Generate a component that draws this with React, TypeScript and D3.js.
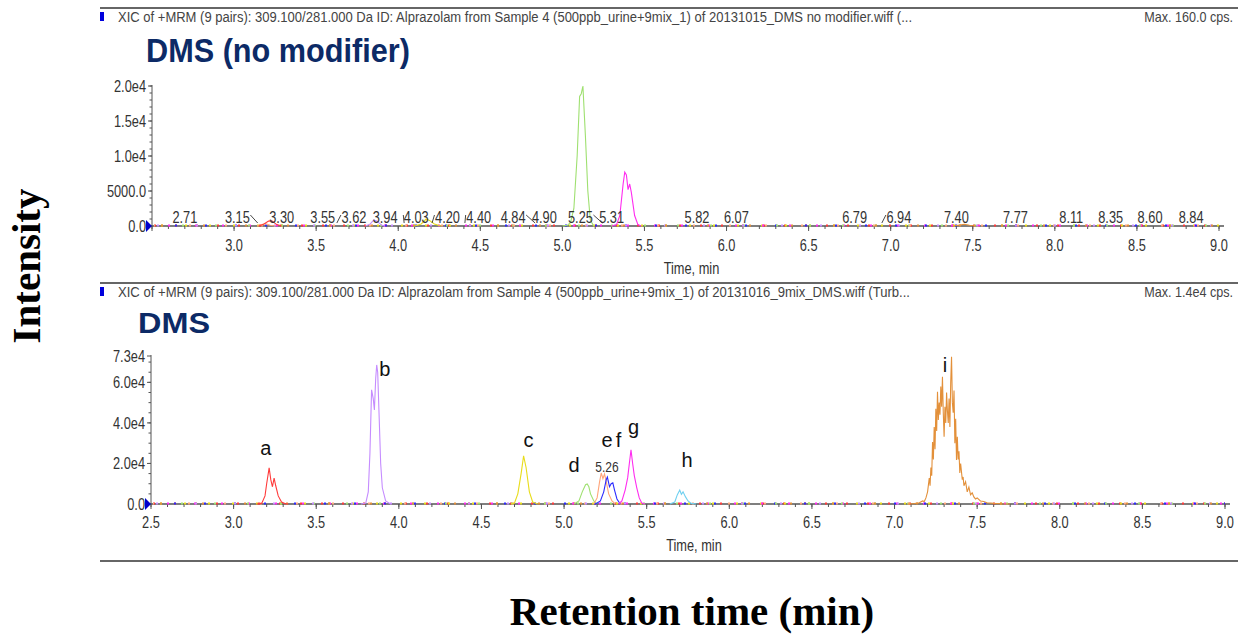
import React from "react";
import * as d3 from "d3";

type Pt = [number, number];

// ---------------- Top panel: DMS (no modifier) traces [time min, intensity cps]
const topGreen: Pt[] = [[5.0, 0], [5.03, 100], [5.05, 500], [5.07, 2500], [5.09, 10000], [5.105, 18500], [5.115, 18900], [5.125, 20000], [5.14, 13000], [5.155, 5000], [5.17, 900], [5.19, 0]];
const topMagenta: Pt[] = [[5.30, 0], [5.33, 200], [5.35, 1500], [5.37, 6000], [5.38, 7700], [5.39, 7300], [5.40, 5200], [5.41, 6000], [5.42, 4800], [5.44, 1500], [5.46, 200], [5.48, 0]];
const topRed: Pt[] = [[3.15, 0], [3.18, 250], [3.21, 700], [3.23, 750], [3.26, 200], [3.29, 0]];
const topSalmon: Pt[] = [[3.14, 0], [3.17, 200], [3.19, 350], [3.22, 100], [3.25, 0]];
const topPurple: Pt[] = [[3.80, 0], [3.83, 300], [3.85, 850], [3.87, 700], [3.90, 100], [3.92, 0]];
const topYellow: Pt[] = [[4.10, 0], [4.14, 300], [4.17, 1000], [4.19, 800], [4.22, 300], [4.26, 0]];
const topOrange: Pt[] = [[7.38, 0], [7.42, 150], [7.45, 250], [7.48, 100], [7.52, 0]];

const topPeakText = ["2.71", "3.15", "3.30", "3.55", "3.62", "3.94", "4.03", "4.20", "4.40", "4.84", "4.90", "5.25", "5.31", "5.82", "6.07", "6.79", "6.94", "7.40", "7.77", "8.11", "8.35", "8.60", "8.84"];
const topPeakTimes = [2.71, 3.15, 3.30, 3.55, 3.62, 3.94, 4.03, 4.20, 4.40, 4.84, 4.90, 5.25, 5.31, 5.82, 6.07, 6.79, 6.94, 7.40, 7.77, 8.11, 8.35, 8.60, 8.84];
const topLabelTimes = [2.70, 3.02, 3.29, 3.54, 3.73, 3.92, 4.11, 4.30, 4.49, 4.70, 4.89, 5.11, 5.30, 5.82, 6.06, 6.78, 7.05, 7.40, 7.76, 8.10, 8.34, 8.58, 8.83];

// ---------------- Bottom panel: DMS traces
const botA: Pt[] = [[3.14, 0], [3.17, 300], [3.19, 4000], [3.20, 10000], [3.215, 17800], [3.225, 12000], [3.235, 8500], [3.245, 12800], [3.255, 9000], [3.27, 4000], [3.29, 1000], [3.31, 200], [3.33, 0]];
const botB: Pt[] = [[3.77, 0], [3.80, 500], [3.815, 6000], [3.825, 25000], [3.835, 56300], [3.845, 52000], [3.852, 46400], [3.86, 62000], [3.866, 68600], [3.872, 65000], [3.88, 45000], [3.89, 20000], [3.90, 8000], [3.92, 1500], [3.95, 0]];
const botC: Pt[] = [[4.68, 0], [4.70, 500], [4.72, 5000], [4.74, 15000], [4.755, 23700], [4.77, 18000], [4.79, 6000], [4.81, 1000], [4.84, 0]];
const botD: Pt[] = [[5.06, 0], [5.09, 1500], [5.11, 6000], [5.13, 9500], [5.14, 9900], [5.15, 8500], [5.16, 5000], [5.18, 1500], [5.20, 0]];
const botE: Pt[] = [[5.18, 0], [5.20, 3000], [5.215, 11000], [5.225, 15300], [5.235, 12500], [5.245, 14800], [5.255, 11000], [5.27, 5000], [5.29, 1500], [5.31, 0]];
const botF: Pt[] = [[5.19, 0], [5.22, 1500], [5.24, 6000], [5.255, 12000], [5.262, 13300], [5.275, 8500], [5.285, 10000], [5.295, 10400], [5.305, 7000], [5.32, 2500], [5.34, 0]];
const botG: Pt[] = [[5.33, 0], [5.35, 1500], [5.37, 7000], [5.385, 13000], [5.395, 20000], [5.405, 26700], [5.415, 20000], [5.425, 14000], [5.44, 8000], [5.455, 3000], [5.47, 500], [5.49, 0]];
const botH: Pt[] = [[5.64, 0], [5.67, 1000], [5.685, 4500], [5.70, 6900], [5.71, 4800], [5.72, 6000], [5.735, 3500], [5.75, 1500], [5.77, 300], [5.80, 0]];
const botI: Pt[] = [[7.08, 0], [7.12, 200], [7.15, 600], [7.17, 1500], [7.18, 1200], [7.19, 3000], [7.20, 6000], [7.21, 12800], [7.215, 9000], [7.22, 18000], [7.225, 14000], [7.23, 30600], [7.235, 22000], [7.24, 38000], [7.245, 27000], [7.25, 47000], [7.255, 36000], [7.26, 55400], [7.265, 41400], [7.27, 50000], [7.275, 44000], [7.28, 58000], [7.285, 48000], [7.29, 62700], [7.295, 45000], [7.30, 33200], [7.305, 48000], [7.31, 40000], [7.315, 55000], [7.32, 46000], [7.325, 40000], [7.33, 52000], [7.335, 38000], [7.34, 60000], [7.345, 72600], [7.35, 50000], [7.355, 45000], [7.36, 56000], [7.365, 30000], [7.37, 42000], [7.375, 21700], [7.38, 33200], [7.385, 22000], [7.39, 26000], [7.395, 15300], [7.40, 20000], [7.41, 12000], [7.415, 13300], [7.42, 9000], [7.43, 11000], [7.44, 6000], [7.45, 8400], [7.46, 4500], [7.47, 5500], [7.48, 3500], [7.49, 2500], [7.50, 3000], [7.52, 1500], [7.54, 1200], [7.56, 600], [7.60, 300], [7.65, 100], [7.70, 0]];

const botLabelText = ["a", "b", "c", "d", "e", "f", "g", "h", "i"];
const botLabelTimes = [3.195, 3.915, 4.785, 5.06, 5.26, 5.33, 5.42, 5.745, 7.305];
const botLabelValues = [24200, 63100, 28100, 15800, 28100, 28100, 34500, 18300, 65100];
const botRtText = ["5.26"];
const botRtTimes = [5.26];
const botRtValues = [15800];

const xTicks = [2.5, 3.0, 3.5, 4.0, 4.5, 5.0, 5.5, 6.0, 6.5, 7.0, 7.5, 8.0, 8.5, 9.0];
const topYTicks = [0, 5000, 10000, 15000, 20000];
const topYTickText = ["0.0", "5000.0", "1.0e4", "1.5e4", "2.0e4"];
const botYTicks = [0, 20000, 40000, 60000, 73000];
const botYTickText = ["0.0", "2.0e4", "4.0e4", "6.0e4", "7.3e4"];

const C = {
  red: "#ff3b3b", purple: "#c58cff", yellow: "#e8dc1a", green: "#9fe070",
  salmon: "#ffa57a", blue: "#2a2aff", magenta: "#ff2cf0", cyan: "#6fd0f0",
  orange: "#e3903a", navy: "#0c2a66",
};

const topSeries = [
  { pts: topSalmon, color: C.salmon }, { pts: topRed, color: C.red },
  { pts: topPurple, color: C.purple }, { pts: topYellow, color: C.yellow },
  { pts: topOrange, color: C.orange }, { pts: topGreen, color: C.green },
  { pts: topMagenta, color: C.magenta },
];
const botSeries = [
  { pts: botA, color: C.red }, { pts: botB, color: C.purple }, { pts: botC, color: C.yellow },
  { pts: botD, color: C.green }, { pts: botE, color: C.salmon }, { pts: botF, color: C.blue },
  { pts: botG, color: C.magenta }, { pts: botH, color: C.cyan }, { pts: botI, color: C.orange },
];
const baselineColors = [C.red, C.yellow, C.magenta, C.blue, C.green, C.salmon, C.purple, C.orange];

const SANS = "'Liberation Sans', Arial, sans-serif";
const SERIF = "'Liberation Serif', 'Times New Roman', serif";
const FS = 16;

function CText({ x, y, children, size = FS, anchor = "middle", sx = 0.8, fill = "#333" }: any) {
  return (
    <text transform={`translate(${x},${y}) scale(${sx},1)`} fontFamily={SANS} fontSize={size} textAnchor={anchor} fill={fill}>
      {children}
    </text>
  );
}

function Panel({ x, y, series, yTicks, yTickText, yMinorStep, showFirstX, header, headerLen, maxText, topLineY, title, titleX, titleLen, titleSize, titleY, timeLabelY, tickLabelY }: any) {
  const [x0, x1] = x.range();
  const y0 = y(0);
  const yTop = y.range()[1];
  const line = d3.line<Pt>().x((d) => x(d[0])).y((d) => y(d[1]));
  const minorX = d3.range(25, 91).map((v) => v / 10);
  const minorY = d3.range(0, y.domain()[1] + 1, yMinorStep);
  return (
    <g>
      <line x1={100} x2={1238} y1={topLineY} y2={topLineY} stroke="#666" strokeWidth={2} />
      <rect x={100} y={topLineY + 4} width={4} height={9} fill="#0000dd" />
      <text x={118} y={topLineY + 14} fontFamily={SANS} fontSize={14} fill="#444" textLength={headerLen} lengthAdjust="spacingAndGlyphs">{header}</text>
      <text transform={`translate(1233,${topLineY + 14}) scale(0.9,1)`} fontFamily={SANS} fontSize={14} fill="#444" textAnchor="end">{maxText}</text>
      <text x={titleX} y={titleY} fontFamily={SANS} fontWeight="bold" fontSize={titleSize} fill={C.navy} textLength={titleLen} lengthAdjust="spacingAndGlyphs">{title}</text>

      {/* y axis */}
      <line x1={x0} x2={x0} y1={y0} y2={yTop - 1} stroke="#555" strokeWidth={1} />
      {minorY.map((v: number) => (
        <line key={"my" + v} x1={x0 - 2.5} x2={x0} y1={y(v)} y2={y(v)} stroke="#555" strokeWidth={1} />
      ))}
      {yTicks.map((v: number, i: number) => (
        <g key={"yt" + v}>
          <line x1={x0 - 4} x2={x0} y1={y(v)} y2={y(v)} stroke="#555" strokeWidth={1} />
          <CText x={x0 - 6} y={y(v) + 6} anchor="end">{yTickText[i]}</CText>
        </g>
      ))}

      {/* x axis */}
      <line x1={x0} x2={x1 + 5} y1={y0} y2={y0} stroke="#555" strokeWidth={1.6} />
      {minorX.map((v: number) => (
        <line key={"mx" + v} x1={x(v)} x2={x(v)} y1={y0} y2={y0 + 3} stroke="#555" strokeWidth={1} />
      ))}
      {xTicks.map((v: number) => (
        <g key={"xt" + v}>
          <line x1={x(v)} x2={x(v)} y1={y0} y2={y0 + 5} stroke="#555" strokeWidth={1} />
          {(showFirstX || v > 2.5) && <CText x={x(v)} y={tickLabelY}>{v.toFixed(1)}</CText>}
        </g>
      ))}
      <CText x={(x0 + x1) / 2 + 6} y={timeLabelY}>Time, min</CText>

      {/* baselines of all traces */}
      {baselineColors.map((c, i) => (
        <line key={"bl" + i} x1={x0 + 2} x2={x1} y1={y0 - 0.5} y2={y0 - 0.5} stroke={c} strokeWidth={2}
          strokeDasharray={`2 ${19 + i * 3}`} strokeDashoffset={-i * 7} />
      ))}

      {/* traces */}
      {series.map((s: any, i: number) => (
        <path key={"s" + i} d={line(s.pts) || ""} fill="none" stroke={s.color} strokeWidth={1.1} />
      ))}

      <polygon points={`${x0 - 6},${y0 - 6} ${x0},${y0} ${x0 - 6},${y0 + 6}`} fill="#0000cc" />
    </g>
  );
}

export default function App() {
  const xTop = d3.scaleLinear().domain([2.5, 9.0]).range([152, 1219]);
  const yTop = d3.scaleLinear().domain([0, 20000]).range([226, 86]);
  const xBot = d3.scaleLinear().domain([2.5, 9.0]).range([151, 1225]);
  const yBot = d3.scaleLinear().domain([0, 73000]).range([504, 356]);
  const tb = yTop(0);

  return (
    <svg width={1240} height={642} style={{ position: "absolute", left: 0, top: 0, background: "#fff" }}>
      <rect x={0} y={0} width={1240} height={642} fill="#fff" />
      <Panel x={xTop} y={yTop} series={topSeries} yTicks={topYTicks} yTickText={topYTickText} yMinorStep={1000}
        showFirstX={false} topLineY={8}
        header="XIC of +MRM (9 pairs): 309.100/281.000 Da ID: Alprazolam from Sample 4 (500ppb_urine+9mix_1) of 20131015_DMS no modifier.wiff (..."
        headerLen={794} maxText="Max. 160.0 cps." title="DMS (no modifier)" titleX={146} titleLen={264} titleSize={33} titleY={62}
        timeLabelY={274} tickLabelY={251} />
      {topPeakText.map((t, i) => {
        const lx = xTop(topLabelTimes[i]);
        const px = xTop(topPeakTimes[i]);
        const d = topLabelTimes[i] - topPeakTimes[i];
        const hw = 12;
        return (
          <g key={"tl" + i}>
            <CText x={lx} y={tb - 3}>{t}</CText>
            {Math.abs(d) > 0.04 && (d < 0
              ? <line x1={lx + hw + 1} y1={tb - 11} x2={px - 1} y2={tb - 3} stroke="#333" strokeWidth={0.9} />
              : <line x1={px + 1} y1={tb - 3} x2={lx - hw - 1} y2={tb - 11} stroke="#333" strokeWidth={0.9} />)}
          </g>
        );
      })}

      <Panel x={xBot} y={yBot} series={botSeries} yTicks={botYTicks} yTickText={botYTickText} yMinorStep={5000}
        showFirstX={true} topLineY={283}
        header="XIC of +MRM (9 pairs): 309.100/281.000 Da ID: Alprazolam from Sample 4 (500ppb_urine+9mix_1) of 20131016_9mix_DMS.wiff (Turb..."
        headerLen={792} maxText="Max. 1.4e4 cps." title="DMS" titleX={138} titleLen={72} titleSize={30} titleY={333}
        timeLabelY={551} tickLabelY={528} />
      {botLabelText.map((t, i) => (
        <text key={"bl" + i} x={xBot(botLabelTimes[i])} y={yBot(botLabelValues[i])} fontFamily={SANS} fontSize={20} textAnchor="middle" fill="#111">{t}</text>
      ))}
      {botRtText.map((t, i) => (
        <CText key={"rt" + i} x={xBot(botRtTimes[i])} y={yBot(botRtValues[i])} size={15}>{t}</CText>
      ))}
      <line x1={100} x2={1238} y1={561} y2={561} stroke="#666" strokeWidth={2} />

      <text transform="translate(40,266) rotate(-90)" fontFamily={SERIF} fontWeight="bold" fontSize={41} textAnchor="middle" fill="#000">Intensity</text>
      <text x={692} y={625} fontFamily={SERIF} fontWeight="bold" fontSize={41} textAnchor="middle" fill="#000">Retention time (min)</text>
    </svg>
  );
}
